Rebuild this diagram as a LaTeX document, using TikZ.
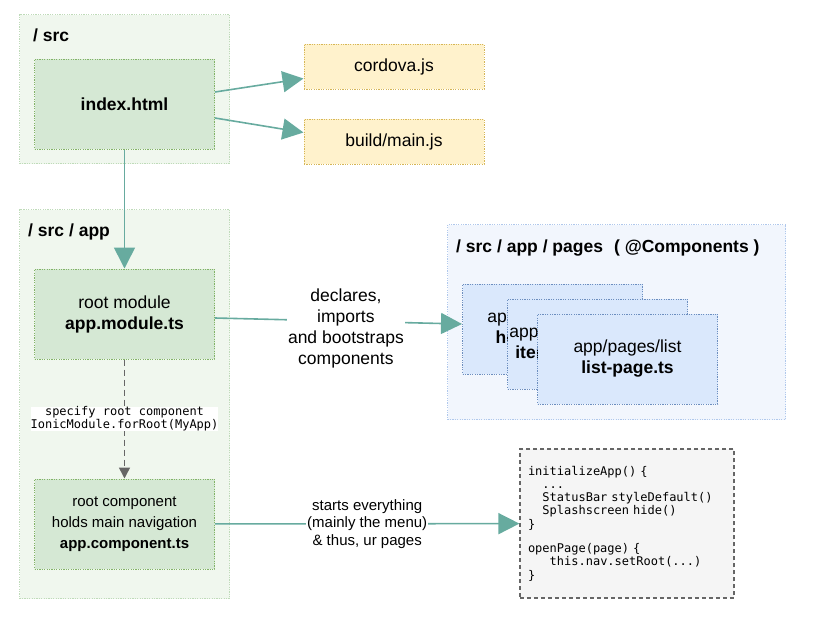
\documentclass[tikz,border=0pt]{standalone}
\usepackage{fontspec}
\setmainfont{Liberation Sans}
\setmonofont{DejaVu Sans Mono}
\usetikzlibrary{arrows.meta,positioning}

\definecolor{grpfill}{HTML}{F0F7EE}
\definecolor{grpline}{HTML}{BFDBB9}
\definecolor{greenfill}{HTML}{D5E8D4}
\definecolor{greenline}{HTML}{82B366}
\definecolor{yellowfill}{HTML}{FFF2CC}
\definecolor{yellowline}{HTML}{D6B656}
\definecolor{pagesfill}{HTML}{F2F6FD}
\definecolor{pagesline}{HTML}{B0C8EC}
\definecolor{bluefill}{HTML}{DAE8FC}
\definecolor{blueline}{HTML}{6C8EBF}
\definecolor{flowcol}{HTML}{67AB9F}
\definecolor{codefill}{HTML}{F5F5F5}
\definecolor{codeline}{HTML}{666666}

\begin{document}
\begin{tikzpicture}[x=1pt, y=-1pt, node distance=210pt,
    big/.style={font=\fontsize{17.5}{21}\selectfont},
    mono/.style={font=\ttfamily\fontsize{12}{13.3}\selectfont},
    dots/.style={dash pattern=on 1.2pt off 1.2pt, line width=1pt},
    group box/.style={dots, draw=grpline, fill=grpfill, inner sep=0pt, anchor=north west},
    main node/.style={big, dots, draw=greenline, fill=greenfill, align=center,
                      minimum width=180pt, minimum height=90pt, inner sep=0pt},
    file node/.style={big, dots, draw=yellowline, fill=yellowfill,
                      minimum width=180pt, minimum height=45pt, inner sep=0pt},
    page node/.style={big, dots, draw=blueline, fill=bluefill, align=center,
                      minimum width=180pt, minimum height=90pt, inner sep=0pt},
    title/.style={font=\fontsize{17.5}{21}\selectfont\bfseries, anchor=base west, inner sep=0pt},
    flow/.style={draw=flowcol, line width=1.6pt, -{Triangle[length=21pt,width=21pt]}},
    lbl/.style={fill=white, align=center, inner sep=1pt}]

  \useasboundingbox (0,0) rectangle (821,632);

  % folders
  \node[group box, minimum width=210pt, minimum height=149pt] (src) at (19,14) {};
  \node[title] (srctitle) at (33,41) {/ src};
  \node[group box, minimum width=210pt, minimum height=389pt] (app) at (19,209) {};
  \node[title] (apptitle) at (28,236) {/ src / app};
  \node[group box, draw=pagesline, fill=pagesfill, minimum width=338pt, minimum height=195pt] (pages) at (447,224) {};
  \node[title] (pagestitle) at (456,252) {/ src / app / pages\hspace{11pt}( @Components )};

  % green files
  \node[main node] (index) at (124.5,104) {\textbf{index.html}};
  \node[main node] (rootmod) [below of=index] {root module\\\textbf{app.module.ts}};
  \node[main node, font=\fontsize{15}{21}\selectfont] (rootcomp) [below of=rootmod]
       {root component\\holds main navigation\\\textbf{app.component.ts}};

  % scripts
  \node[file node] (cordova) at (394,66.5) {cordova.js};
  \node[file node] (build) [below of=cordova, node distance=75pt] {build/main.js};

  % pages
  \node[page node] (home) at (552.5,329) {app/pages/home\\\textbf{home-page.ts}};
  \node[page node] (item) at ([shift={(45,15)}]home.center) {app/pages/item-details\\\textbf{item-details-page.ts}};
  \node[page node] (list) at ([shift={(30,15)}]item.center) {app/pages/list\\\textbf{list-page.ts}};

  % code
  \node[mono, draw=codeline, fill=codefill, line width=1.2pt, dash pattern=on 4pt off 3pt,
        align=left, text width=198pt, inner xsep=8pt, minimum height=149pt] (code) at (627,523.5)
       {initializeApp() \{\\
        \hphantom{xx}...\\
        \hphantom{xx}StatusBar styleDefault()\\
        \hphantom{xx}Splashscreen hide()\\
        \}\\[11pt]
        openPage(page) \{\\
        \hphantom{xxx}this.nav.setRoot(...)\\
        \}};

  % connectors
  \draw[flow] ([yshift=12pt]index.east) -- ([yshift=-12pt]cordova.west);
  \draw[flow] ([yshift=-14pt]index.east) -- ([yshift=9pt]build.west);
  \draw[flow] (index) -- (rootmod);
  \draw[flow] ([yshift=-4pt]rootmod.east) -- ([yshift=5pt]home.west)
     node[lbl, big, pos=0.53, yshift=-7pt] {declares,\\imports\\and bootstraps\\components};
  \draw[draw=codeline, line width=1.5pt, dash pattern=on 6pt off 4pt,
        -{Triangle[length=11pt,width=11pt]}] (rootmod) -- (rootcomp)
     node[lbl, mono, inner sep=0pt, pos=0.5] {specify root component\\IonicModule.forRoot(MyApp)};
  \draw[flow] (rootcomp) -- (code)
     node[lbl, pos=0.5, font=\fontsize{15}{17.5}\selectfont]
       {starts everything\\(mainly the menu)\\\& thus, ur pages};

\end{tikzpicture}
\end{document}
